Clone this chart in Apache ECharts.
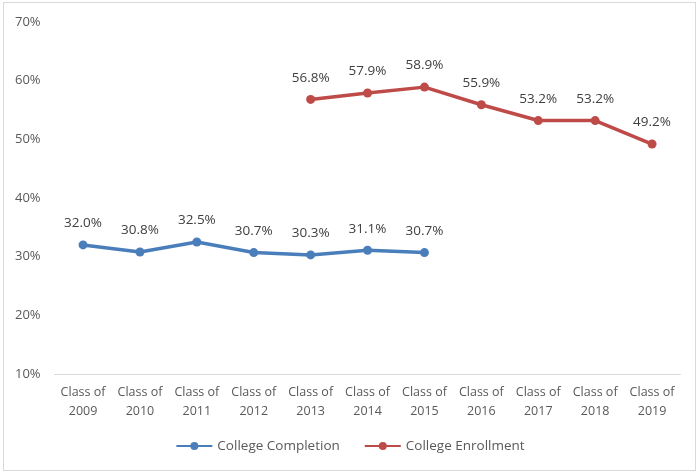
<!DOCTYPE html>
<html><head><meta charset="utf-8">
<script src="https://cdn.jsdelivr.net/npm/echarts@6/dist/echarts.min.js"></script>
<style>html,body{margin:0;padding:0;background:#fff}#c{width:700px;height:475px}
#frame{position:absolute;left:3px;top:2px;width:693px;height:469px;border:1px solid #d9d9d9;box-sizing:border-box;pointer-events:none}</style>
</head><body><div id="c"></div><div id="frame"></div>
<script>
const categories = ['Class of\n2009','Class of\n2010','Class of\n2011','Class of\n2012','Class of\n2013','Class of\n2014','Class of\n2015','Class of\n2016','Class of\n2017','Class of\n2018','Class of\n2019'];
const completion = [32.0, 30.8, 32.5, 30.7, 30.3, 31.1, 30.7, null, null, null, null];
const enrollment = [null, null, null, null, 56.8, 57.9, 58.9, 55.9, 53.2, 53.2, 49.2];
const yTicks = [10, 20, 30, 40, 50, 60, 70];

const font = 'Open Sans, Liberation Sans, sans-serif';
const chart = echarts.init(document.getElementById('c'), null, {renderer:'canvas'});
const mk = (name, data, color) => ({
  name, type:'line', data, connectNulls:false,
  symbol:'circle', symbolSize:9,
  lineStyle:{width:3.5, color}, itemStyle:{color},
  label:{show:true, position:'top', distance:10, color:'#404040', fontSize:13.5, fontFamily:font,
    formatter:p => p.value == null ? '' : p.value.toFixed(1) + '%'}
});
chart.setOption({
  animation:false,
  grid:{left:54.6, right:19.5, top:22, bottom:101, containLabel:false},
  legend:{bottom:17, left:'center', itemWidth:36, itemHeight:10, itemGap:24,
    textStyle:{color:'#595959', fontSize:13.5, fontFamily:font},
    data:['College Completion','College Enrollment']},
  xAxis:{type:'category', data:categories, boundaryGap:true,
    axisLine:{lineStyle:{color:'#d9d9d9', width:1}}, axisTick:{show:false},
    axisLabel:{color:'#595959', fontSize:12.5, fontFamily:font, lineHeight:19, margin:9, interval:0}},
  yAxis:{type:'value', min:yTicks[0], max:yTicks[yTicks.length-1], interval:10,
    splitLine:{show:false}, axisLine:{show:false}, axisTick:{show:false},
    axisLabel:{color:'#595959', fontSize:13, fontFamily:font, margin:14, formatter:v => v + '%'}},
  series:[mk('College Completion', completion, '#4A7EBB'), mk('College Enrollment', enrollment, '#BE4B48')]
});
</script></body></html>
